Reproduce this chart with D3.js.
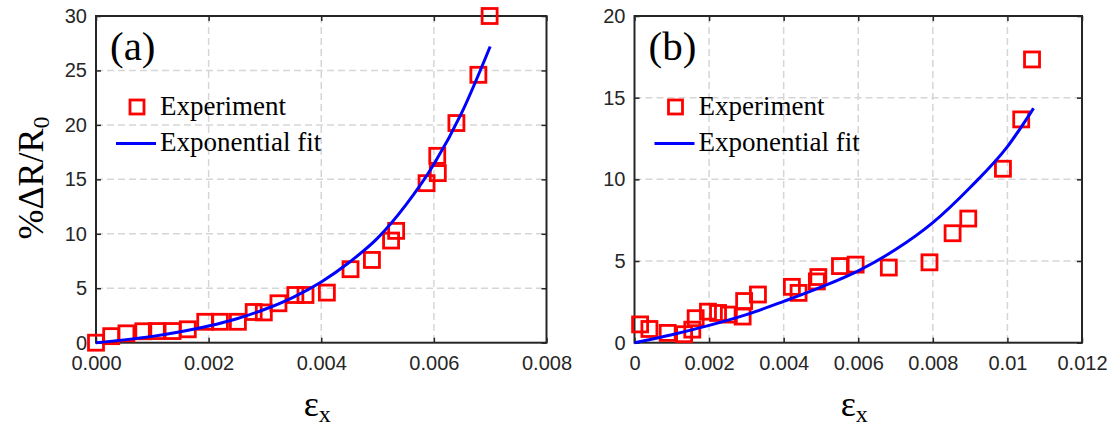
<!DOCTYPE html>
<html lang="en">
<head>
<meta charset="UTF-8">
<title>Resistance change vs strain</title>
<script src="https://d3js.org/d3.v7.min.js"></script>
<style>
  body { margin: 0; background: #fff; }
  .tick text { font-family: "Liberation Sans", Arial, sans-serif; font-size: 20px; fill: #262626; }
  .serif { font-family: "Liberation Serif", "Times New Roman", serif; fill: #000; }
</style>
</head>
<body>
<svg id="chart" width="1116" height="427"></svg>
<script>
// Panel (a) - measured points
const strainA = [0.00000, 0.00027, 0.00054, 0.00084, 0.00108, 0.00136, 0.00163, 0.00194, 0.00220, 0.00252,
                 0.00280, 0.00298, 0.00324, 0.00354, 0.00372, 0.00410, 0.00452, 0.00490, 0.00524, 0.00533,
                 0.00587, 0.00607, 0.00606, 0.00640, 0.00679, 0.00699];
const resistA = [0.0, 0.6, 0.86, 1.05, 1.07, 1.07, 1.23, 1.92, 1.92, 1.92,
                 2.82, 2.78, 3.62, 4.38, 4.38, 4.6, 6.75, 7.6, 9.38, 10.27,
                 14.65, 15.57, 17.16, 20.17, 24.6, 30.0];
// Panel (a) - fit curve
const fitStrainA = [0, 0.0005, 0.001, 0.0015, 0.002, 0.0025, 0.003, 0.0035, 0.004, 0.0045, 0.005, 0.0055, 0.006, 0.0065, 0.007];
const fitResistA = [0, 0.26, 0.58, 1.00, 1.53, 2.20, 3.07, 4.17, 5.58, 7.39, 9.6, 12.63, 16.38, 21.17, 27.2];

// Panel (b) - measured points
const strainB = [0.00015, 0.00040, 0.00089, 0.00133, 0.00155, 0.00164, 0.00197, 0.00224, 0.00253, 0.00290,
                 0.00294, 0.00331, 0.00422, 0.00440, 0.00489, 0.00493, 0.00551, 0.00593, 0.00682, 0.00791,
                 0.00853, 0.00895, 0.00988, 0.01037, 0.01066];
const resistB = [1.12, 0.84, 0.60, 0.52, 0.80, 1.50, 1.90, 1.82, 1.72, 1.60,
                 2.55, 2.95, 3.42, 3.05, 3.75, 4.02, 4.69, 4.78, 4.60, 4.92,
                 6.70, 7.60, 10.65, 13.67, 17.34];
// Panel (b) - fit curve
const fitStrainB = [0, 0.001, 0.002, 0.003, 0.004, 0.005, 0.006, 0.007, 0.008, 0.009, 0.010, 0.0107];
const fitResistB = [0, 0.49, 1.06, 1.72, 2.53, 3.40, 4.40, 5.70, 7.35, 9.50, 12.0, 14.35];

// ticks
const xTicksA = [0, 0.002, 0.004, 0.006, 0.008];
const xTickLabelsA = ["0.000", "0.002", "0.004", "0.006", "0.008"];
const yTicksA = [0, 5, 10, 15, 20, 25, 30];
const xTicksB = [0, 0.002, 0.004, 0.006, 0.008, 0.01, 0.012];
const xTickLabelsB = ["0", "0.002", "0.004", "0.006", "0.008", "0.01", "0.012"];
const yTicksB = [0, 5, 10, 15, 20];

const legendLabels = ["Experiment", "Exponential fit"];

const svg = d3.select("#chart");
const axisColor = "#262626";

function drawPanel(p) {
    const x = d3.scaleLinear().domain([p.xTicks[0], p.xTicks[p.xTicks.length - 1]]).range([p.left, p.right]);
    const y = d3.scaleLinear().domain([p.yTicks[0], p.yTicks[p.yTicks.length - 1]]).range([p.bottom, p.top]);
    const g = svg.append("g");

    // dashed grid
    g.selectAll(".vgrid").data(p.xTicks.slice(1, -1)).join("line")
        .attr("x1", d => x(d)).attr("x2", d => x(d))
        .attr("y1", p.top).attr("y2", p.bottom)
        .attr("stroke", "#d6d6d6").attr("stroke-width", 1.5).attr("stroke-dasharray", "7,4");
    g.selectAll(".hgrid").data(p.yTicks.slice(1, -1)).join("line")
        .attr("x1", p.left).attr("x2", p.right)
        .attr("y1", d => y(d)).attr("y2", d => y(d))
        .attr("stroke", "#d6d6d6").attr("stroke-width", 1.5).attr("stroke-dasharray", "7,4");

    // axes, ticks pointing inward on all sides
    const bottom = g.append("g").attr("transform", `translate(0,${p.bottom})`)
        .call(d3.axisBottom(x).tickValues(p.xTicks).tickFormat((d, i) => p.xLabels[i])
            .tickSizeInner(-5).tickSizeOuter(0).tickPadding(13));
    const left = g.append("g").attr("transform", `translate(${p.left},0)`)
        .call(d3.axisLeft(y).tickValues(p.yTicks).tickFormat(d3.format("d"))
            .tickSizeInner(-5).tickSizeOuter(0).tickPadding(9));
    const top = g.append("g").attr("transform", `translate(0,${p.top})`)
        .call(d3.axisTop(x).tickValues(p.xTicks).tickFormat("").tickSizeInner(-5).tickSizeOuter(0));
    const right = g.append("g").attr("transform", `translate(${p.right},0)`)
        .call(d3.axisRight(y).tickValues(p.yTicks).tickFormat("").tickSizeInner(-5).tickSizeOuter(0));
    [bottom, left, top, right].forEach(a => {
        a.attr("font-family", null).attr("font-size", null);
        a.select(".domain").remove();
        a.selectAll(".tick line").attr("stroke", axisColor).attr("stroke-width", 1.5);
    });
    g.append("rect")
        .attr("x", p.left).attr("y", p.top)
        .attr("width", p.right - p.left).attr("height", p.bottom - p.top)
        .attr("fill", "none").attr("stroke", axisColor).attr("stroke-width", 2);

    // experiment markers
    const pts = p.strain.map((s, i) => ({ s, r: p.resist[i] }));
    g.selectAll(".pt").data(pts).join("rect")
        .attr("x", d => x(d.s) - 7.5).attr("y", d => y(d.r) - 7.5)
        .attr("width", 15).attr("height", 15)
        .attr("fill", "none").attr("stroke", "#ff0000").attr("stroke-width", 2.8);

    // fit curve
    const fit = p.fitStrain.map((s, i) => ({ s, r: p.fitResist[i] }));
    g.append("path").datum(fit)
        .attr("d", d3.line().x(d => x(d.s)).y(d => y(d.r)).curve(d3.curveMonotoneX))
        .attr("fill", "none").attr("stroke", "#0000ff").attr("stroke-width", 3);

    // panel tag
    g.append("text").attr("class", "serif")
        .attr("x", p.left + 14).attr("y", 60)
        .attr("font-size", 41).text(p.tag);

    // legend
    g.append("rect")
        .attr("x", p.left + 41 - 7).attr("y", 107 - 7).attr("width", 14).attr("height", 14)
        .attr("fill", "none").attr("stroke", "#ff0000").attr("stroke-width", 2.8);
    g.append("line")
        .attr("x1", p.left + 20).attr("x2", p.left + 60).attr("y1", 143.5).attr("y2", 143.5)
        .attr("stroke", "#0000ff").attr("stroke-width", 3);
    g.selectAll(".leg").data(legendLabels).join("text")
        .attr("class", "serif")
        .attr("x", p.left + 64).attr("y", (d, i) => 115 + i * 36)
        .attr("font-size", 27).text(d => d);

    // x axis label
    const xl = g.append("text").attr("class", "serif")
        .attr("x", (p.left + p.right) / 2 - 4).attr("y", 416)
        .attr("text-anchor", "middle").attr("font-size", 36);
    xl.append("tspan").text("\u03b5");
    xl.append("tspan").attr("dy", 6).attr("font-size", 24).text("x");
}

drawPanel({
    tag: "(a)", left: 96, right: 546.5, top: 16, bottom: 342.7,
    xTicks: xTicksA, xLabels: xTickLabelsA, yTicks: yTicksA,
    strain: strainA, resist: resistA, fitStrain: fitStrainA, fitResist: fitResistA
});
drawPanel({
    tag: "(b)", left: 634.5, right: 1082, top: 16, bottom: 342.7,
    xTicks: xTicksB, xLabels: xTickLabelsB, yTicks: yTicksB,
    strain: strainB, resist: resistB, fitStrain: fitStrainB, fitResist: fitResistB
});

// y axis label (shared, on left panel)
const yl = svg.append("text").attr("class", "serif")
    .attr("transform", "translate(43,178) rotate(-90)")
    .attr("text-anchor", "middle").attr("font-size", 36);
yl.append("tspan").text("%\u0394R/R");
yl.append("tspan").attr("dy", 6).attr("font-size", 24).text("0");
</script>
</body>
</html>
